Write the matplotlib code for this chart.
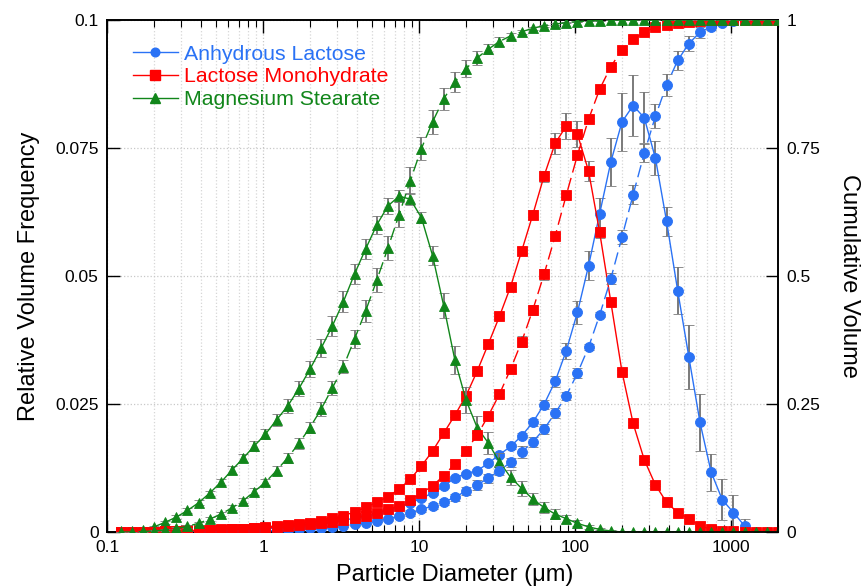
import matplotlib
matplotlib.use("Agg")
import matplotlib.pyplot as plt
from matplotlib.ticker import FixedLocator, FixedFormatter, LogLocator, NullFormatter
from matplotlib.lines import Line2D

plt.rcParams['font.family'] = ['Liberation Sans', 'DejaVu Sans']

# Particle size bins (um)
diameter = [0.1221, 0.1439, 0.1697, 0.2, 0.2358, 0.2779, 0.3276, 0.3861, 0.4552, 0.5365,
            0.6325, 0.7455, 0.8788, 1.036, 1.221, 1.439, 1.697, 2.0, 2.358, 2.779,
            3.276, 3.861, 4.552, 5.365, 6.325, 7.455, 8.788, 10.36, 12.21, 14.39,
            16.97, 20.0, 23.58, 27.79, 32.76, 38.61, 45.52, 53.65, 63.25, 74.55,
            87.88, 103.6, 122.1, 143.9, 169.7, 200.0, 235.8, 277.9, 327.6, 386.1,
            455.2, 536.5, 632.5, 745.5, 878.8, 1036, 1221, 1439, 1697, 2000]

# Anhydrous Lactose
al_freq = [0, 0, 0, 0, 0, 0, 0, 0, 0.0001, 0.0002,
           0.0003, 0.0004, 0.0005, 0.0006, 0.0008, 0.0010, 0.0012, 0.0014, 0.0017, 0.0020,
           0.0023, 0.0027, 0.0031, 0.0036, 0.0042, 0.0049, 0.0057, 0.0066, 0.0076, 0.0089,
           0.0106, 0.0114, 0.0120, 0.0134, 0.0151, 0.0167, 0.0188, 0.0214, 0.0249, 0.0294,
           0.0354, 0.0429, 0.0520, 0.0622, 0.0723, 0.0801, 0.0833, 0.0809, 0.0730, 0.0607,
           0.0471, 0.0342, 0.0214, 0.0117, 0.0063, 0.0038, 0.0012, 0, 0, 0]
al_freq_err = [0, 0, 0, 0, 0, 0, 0, 0, 0.0001, 0.0001,
               0.0001, 0.0001, 0.0001, 0.0002, 0.0002, 0.0002, 0.0002, 0.0002, 0.0003, 0.0003,
               0.0003, 0.0003, 0.0003, 0.0003, 0.0004, 0.0004, 0.0004, 0.0004, 0.0004, 0.0004,
               0.0004, 0.0004, 0.0004, 0.0004, 0.0004, 0.0005, 0.0005, 0.0006, 0.0008, 0.0011,
               0.0016, 0.0022, 0.0028, 0.0031, 0.0047, 0.0057, 0.0059, 0.0050, 0.0033, 0.0028,
               0.0046, 0.0062, 0.0056, 0.0036, 0.0040, 0.0034, 0.0013, 0, 0, 0]
al_cum = [0, 0, 0, 0, 0, 0, 0, 0, 0, 0.0002,
          0.0005, 0.001, 0.0015, 0.002, 0.003, 0.004, 0.005, 0.007, 0.008, 0.010,
          0.012, 0.015, 0.018, 0.022, 0.026, 0.031, 0.037, 0.044, 0.051, 0.058,
          0.068, 0.080, 0.092, 0.105, 0.120, 0.136, 0.156, 0.176, 0.201, 0.232,
          0.266, 0.310, 0.361, 0.424, 0.495, 0.576, 0.659, 0.740, 0.812, 0.873,
          0.921, 0.954, 0.976, 0.987, 0.994, 0.998, 1.0, 1.0, 1.0, 1.0]
al_cum_err = [0, 0, 0, 0, 0, 0, 0, 0, 0, 0,
              0.001, 0.001, 0.001, 0.001, 0.001, 0.001, 0.002, 0.002, 0.002, 0.002,
              0.002, 0.003, 0.003, 0.003, 0.004, 0.004, 0.005, 0.005, 0.006, 0.006,
              0.007, 0.008, 0.010, 0.009, 0.009, 0.009, 0.011, 0.010, 0.009, 0.010,
              0.008, 0.010, 0.006, 0.005, 0.011, 0.013, 0.018, 0.018, 0.023, 0.022,
              0.018, 0.014, 0.011, 0.007, 0.004, 0.002, 0, 0, 0, 0]

# Lactose Monohydrate
lm_freq = [0, 0, 0, 0, 0.0001, 0.0002, 0.0003, 0.0003, 0.0004, 0.0005,
           0.0005, 0.0006, 0.0008, 0.0010, 0.0012, 0.0014, 0.0016, 0.0018, 0.0022, 0.0027,
           0.0032, 0.0039, 0.0048, 0.0058, 0.0069, 0.0084, 0.0103, 0.0129, 0.0158, 0.0193,
           0.0228, 0.0266, 0.0314, 0.0367, 0.0421, 0.0479, 0.0549, 0.0620, 0.0695, 0.0759,
           0.0793, 0.0777, 0.0705, 0.0585, 0.0449, 0.0313, 0.0212, 0.0141, 0.0092, 0.0058,
           0.0038, 0.0026, 0.0012, 0.0005, 0.0002, 0.0001, 0, 0, 0, 0]
lm_freq_err = [0, 0, 0, 0, 0.0001, 0.0001, 0.0001, 0.0001, 0.0001, 0.0001,
               0.0001, 0.0001, 0.0001, 0.0001, 0.0002, 0.0002, 0.0002, 0.0002, 0.0002, 0.0002,
               0.0002, 0.0002, 0.0002, 0.0002, 0.0003, 0.0003, 0.0003, 0.0003, 0.0003, 0.0003,
               0.0003, 0.0004, 0.0003, 0.0005, 0.0004, 0.0005, 0.0007, 0.0008, 0.0011, 0.0020,
               0.0025, 0.0025, 0.0020, 0.0010, 0.0005, 0.0004, 0.0003, 0.0002, 0.0002, 0.0002,
               0.0001, 0.0001, 0.0001, 0.0001, 0, 0, 0, 0, 0, 0]
lm_cum = [0, 0, 0, 0, 0.001, 0.001, 0.002, 0.003, 0.003, 0.004,
          0.005, 0.006, 0.007, 0.008, 0.009, 0.011, 0.013, 0.015, 0.017, 0.020,
          0.023, 0.027, 0.032, 0.038, 0.044, 0.051, 0.063, 0.076, 0.090, 0.110,
          0.133, 0.159, 0.189, 0.227, 0.269, 0.318, 0.372, 0.434, 0.503, 0.578,
          0.658, 0.736, 0.806, 0.865, 0.909, 0.942, 0.962, 0.976, 0.986, 0.991,
          0.995, 0.997, 0.999, 1.0, 1.0, 1.0, 1.0, 1.0, 1.0, 1.0]
lm_cum_err = [0, 0, 0, 0, 0.001, 0.001, 0.001, 0.001, 0.001, 0.001,
              0.001, 0.001, 0.001, 0.001, 0.002, 0.002, 0.002, 0.002, 0.002, 0.002,
              0.002, 0.002, 0.003, 0.003, 0.003, 0.003, 0.003, 0.004, 0.004, 0.004,
              0.004, 0.005, 0.005, 0.005, 0.006, 0.008, 0.010, 0.010, 0.011, 0.004,
              0.004, 0.003, 0.003, 0.002, 0.002, 0.002, 0.002, 0.001, 0.001, 0.001,
              0.001, 0.001, 0, 0, 0, 0, 0, 0, 0, 0]

# Magnesium Stearate
ms_freq = [0.0001, 0.0002, 0.0004, 0.0010, 0.0019, 0.0029, 0.0042, 0.0057, 0.0076, 0.0097,
           0.0121, 0.0144, 0.0168, 0.0191, 0.0219, 0.0246, 0.0280, 0.0318, 0.0359, 0.0402,
           0.0450, 0.0504, 0.0553, 0.0600, 0.0637, 0.0656, 0.0650, 0.0614, 0.0540, 0.0442,
           0.0336, 0.0258, 0.0204, 0.0174, 0.0137, 0.0107, 0.0085, 0.0064, 0.0048, 0.0035,
           0.0026, 0.0017, 0.0010, 0.0005, 0.0002, 0, 0, 0, 0, 0,
           0, 0, 0, 0, 0, 0, 0, 0, 0, 0]
ms_freq_err = [0.0001, 0.0001, 0.0002, 0.0002, 0.0003, 0.0004, 0.0004, 0.0005, 0.0005, 0.0006,
               0.0007, 0.0008, 0.0010, 0.0010, 0.0011, 0.0013, 0.0014, 0.0016, 0.0018, 0.0019,
               0.0020, 0.0020, 0.0020, 0.0018, 0.0015, 0.0012, 0.0012, 0.0011, 0.0019, 0.0024,
               0.0028, 0.0026, 0.0023, 0.0021, 0.0018, 0.0015, 0.0014, 0.0012, 0.0011, 0.0010,
               0.0008, 0.0006, 0.0004, 0.0002, 0.0001, 0, 0, 0, 0, 0,
               0, 0, 0, 0, 0, 0, 0, 0, 0, 0]
ms_cum = [0, 0, 0.001, 0.002, 0.004, 0.007, 0.011, 0.017, 0.025, 0.035,
          0.047, 0.061, 0.079, 0.097, 0.120, 0.145, 0.173, 0.204, 0.240, 0.281,
          0.323, 0.377, 0.432, 0.492, 0.555, 0.620, 0.686, 0.749, 0.801, 0.846,
          0.879, 0.905, 0.926, 0.943, 0.958, 0.969, 0.977, 0.984, 0.989, 0.992,
          0.995, 0.997, 0.998, 0.999, 1.0, 1.0, 1.0, 1.0, 1.0, 1.0,
          1.0, 1.0, 1.0, 1.0, 1.0, 1.0, 1.0, 1.0, 1.0, 1.0]
ms_cum_err = [0, 0, 0.001, 0.001, 0.002, 0.002, 0.003, 0.003, 0.004, 0.004,
              0.005, 0.005, 0.006, 0.006, 0.008, 0.010, 0.010, 0.011, 0.013, 0.013,
              0.013, 0.018, 0.021, 0.023, 0.024, 0.024, 0.026, 0.023, 0.023, 0.021,
              0.020, 0.016, 0.013, 0.010, 0.008, 0.006, 0.004, 0.003, 0.002, 0.002,
              0.001, 0, 0, 0, 0, 0, 0, 0, 0, 0,
              0, 0, 0, 0, 0, 0, 0, 0, 0, 0]

names = ['Anhydrous Lactose', 'Lactose Monohydrate', 'Magnesium Stearate']
colors = ['#2a72f5', '#ff0000', '#11861a']
markers = ['o', 's', '^']
msizes = [7.2, 7.8, 7.8]

freqs = [al_freq, lm_freq, ms_freq]
freq_errs = [al_freq_err, lm_freq_err, ms_freq_err]
cums = [al_cum, lm_cum, ms_cum]
cum_errs = [al_cum_err, lm_cum_err, ms_cum_err]

fig = plt.figure(figsize=(8.67, 5.88), dpi=100)
ax = fig.add_axes([107/867, 1 - 532/588, (778-107)/867, (532-20)/588])
ax2 = ax.twinx()

dash = (0, (9, 4))

def draw(axis, y, err, color, marker, ms, ls, z):
    line, caps, bars = axis.errorbar(diameter, y, yerr=err, color=color, marker=marker,
                                     markersize=ms, linewidth=1.0, linestyle=ls,
                                     ecolor='#7a7a7a', elinewidth=1.4, capsize=3.5,
                                     capthick=1.0, zorder=z, markeredgewidth=0.6,
                                     markeredgecolor=color)
    for c in caps:
        c.set_color('#222222')
    return line

for k in range(3):
    draw(ax, freqs[k], freq_errs[k], colors[k], markers[k], msizes[k], '-', 3 + k)
    draw(ax2, cums[k], cum_errs[k], colors[k], markers[k], msizes[k], dash, 3 + k)

ax.set_xscale('log')
ax.set_xlim(0.1, 2000)
ax.set_ylim(0, 0.1)
ax2.set_ylim(0, 1)

ax.set_yticks([0, 0.025, 0.05, 0.075, 0.1])
ax.set_yticklabels(['0', '0.025', '0.05', '0.075', '0.1'])
ax2.set_yticks([0, 0.25, 0.5, 0.75, 1])
ax2.set_yticklabels(['0', '0.25', '0.5', '0.75', '1'])

ax.xaxis.set_major_locator(FixedLocator([0.1, 1, 10, 100, 1000]))
ax.xaxis.set_major_formatter(FixedFormatter(['0.1', '1', '10', '100', '1000']))
ax.xaxis.set_minor_locator(LogLocator(base=10, subs=range(2, 10), numticks=20))
ax.xaxis.set_minor_formatter(NullFormatter())

ax.grid(which='major', axis='both', linestyle=':', color='#c8c8c8', linewidth=0.9)
ax.grid(which='minor', axis='x', linestyle=':', color='#d6d6d6', linewidth=0.9)

ax.tick_params(axis='both', which='major', direction='in', length=9, width=1.0,
               labelsize=12.5, top=True, right=False, pad=6)
ax.tick_params(axis='x', which='minor', direction='in', length=5, width=0.8, top=True)
ax2.tick_params(axis='y', which='major', direction='in', length=9, width=1.0,
                labelsize=12.5, pad=6)

for a in (ax, ax2):
    for s in a.spines.values():
        s.set_linewidth(1.2)

ax.set_xlabel('Particle Diameter (\u03bcm)', fontsize=17)
ax.xaxis.set_label_coords((455 - 107) / 671, -0.062)
ax.set_ylabel('Relative Volume Frequency', fontsize=17, labelpad=11)
ax2.set_ylabel('Cumulative Volume', fontsize=17, rotation=270, labelpad=29)

handles = [Line2D([], [], color=colors[k], marker=markers[k], markersize=msizes[k] - 1.0,
                  linewidth=1.0, markeredgecolor=colors[k]) for k in range(3)]
leg = ax2.legend(handles, names, loc='upper left', bbox_to_anchor=(0.039, 0.952),
                 frameon=False, fontsize=15.3, handlelength=2.1, handletextpad=0.3,
                 labelspacing=0.18, borderaxespad=0.0, borderpad=0.0)
for t, c in zip(leg.get_texts(), colors):
    t.set_color(c)

fig.savefig('out.png', dpi=100)
